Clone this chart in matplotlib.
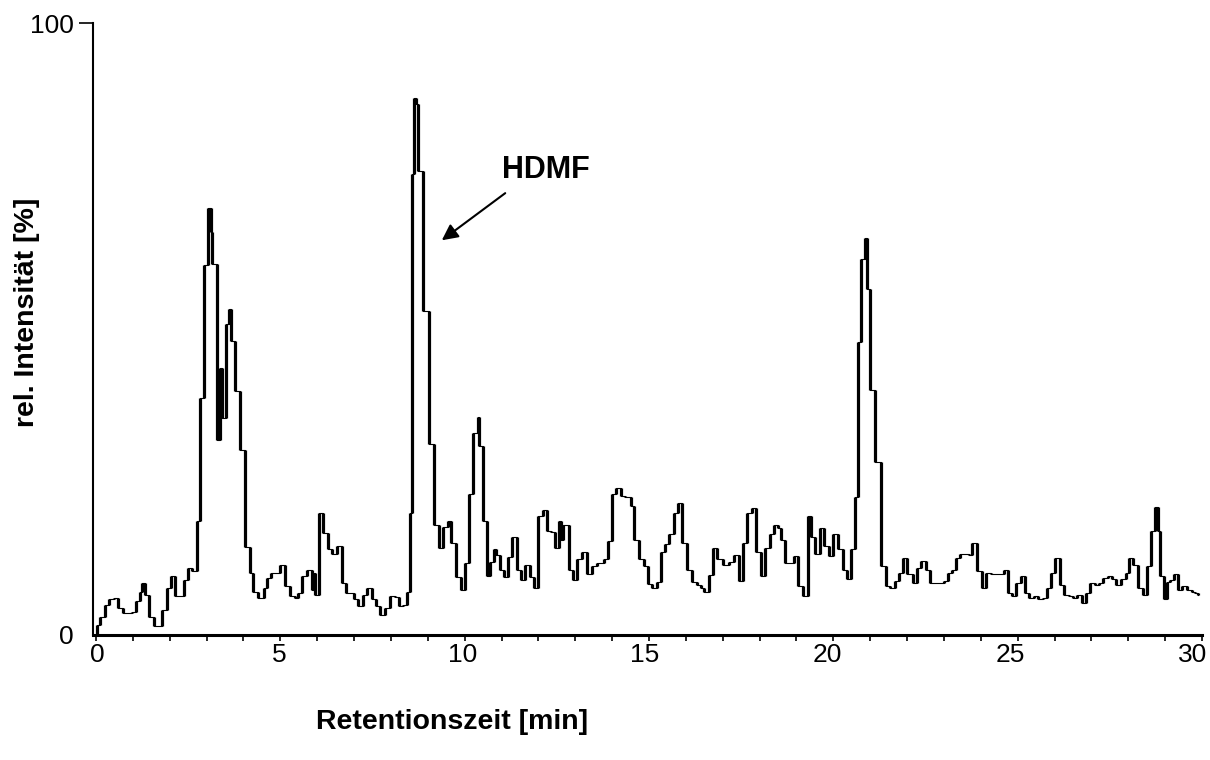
import matplotlib
matplotlib.use('Agg')
import matplotlib.pyplot as plt
import matplotlib.transforms as mtransforms
import numpy as np

# Chromatogramm: Retentionszeit [min] und rel. Intensität [%]
zeit = [0.0, 0.02, 0.11, 0.24, 0.36, 0.5, 0.6, 0.72, 0.88, 0.97,
        1.08, 1.18, 1.24, 1.33, 1.44, 1.56, 1.67, 1.8, 1.92, 2.03,
        2.14, 2.28, 2.4, 2.5, 2.6, 2.73, 2.82, 2.94, 3.05, 3.12,
        3.16, 3.27, 3.37, 3.43, 3.53, 3.62, 3.66, 3.77, 3.9, 4.04,
        4.18, 4.27, 4.4, 4.55, 4.63, 4.76, 4.99, 5.13, 5.26, 5.4,
        5.49, 5.58, 5.71, 5.85, 5.9, 5.94, 6.06, 6.15, 6.3, 6.41,
        6.53, 6.66, 6.78, 6.89, 7.0, 7.12, 7.25, 7.36, 7.48, 7.59,
        7.7, 7.84, 7.97, 8.11, 8.23, 8.34, 8.44, 8.52, 8.57, 8.63,
        8.68, 8.73, 8.86, 9.02, 9.16, 9.3, 9.41, 9.55, 9.64, 9.77,
        9.91, 10.0, 10.11, 10.23, 10.35, 10.4, 10.49, 10.61, 10.7, 10.79,
        10.84, 10.95, 11.07, 11.18, 11.29, 11.41, 11.53, 11.64, 11.77, 11.89,
        12.0, 12.12, 12.23, 12.35, 12.45, 12.55, 12.62, 12.68, 12.82, 12.95,
        13.06, 13.18, 13.32, 13.45, 13.59, 13.77, 13.89, 14.0, 14.11, 14.23,
        14.36, 14.5, 14.59, 14.73, 14.86, 14.98, 15.09, 15.23, 15.32, 15.44,
        15.55, 15.67, 15.78, 15.9, 16.04, 16.17, 16.3, 16.4, 16.5, 16.62,
        16.73, 16.85, 17.0, 17.18, 17.3, 17.44, 17.55, 17.67, 17.8, 17.91,
        18.05, 18.15, 18.27, 18.39, 18.5, 18.57, 18.68, 18.82, 18.94, 19.05,
        19.18, 19.3, 19.39, 19.5, 19.64, 19.75, 19.88, 20.0, 20.12, 20.25,
        20.36, 20.48, 20.59, 20.66, 20.75, 20.86, 20.92, 21.0, 21.14, 21.3,
        21.44, 21.55, 21.66, 21.77, 21.9, 22.0, 22.15, 22.27, 22.38, 22.5,
        22.62, 22.73, 22.86, 23.0, 23.12, 23.23, 23.32, 23.44, 23.57, 23.68,
        23.77, 23.91, 24.03, 24.14, 24.27, 24.41, 24.52, 24.64, 24.73, 24.85,
        24.95, 25.09, 25.2, 25.32, 25.44, 25.55, 25.68, 25.79, 25.91, 26.02,
        26.14, 26.27, 26.39, 26.5, 26.62, 26.75, 26.86, 26.97, 27.09, 27.21,
        27.32, 27.45, 27.57, 27.68, 27.8, 27.94, 28.03, 28.13, 28.27, 28.39,
        28.5, 28.61, 28.73, 28.8, 28.85, 28.97, 29.05, 29.12, 29.23, 29.34,
        29.45, 29.59, 29.73, 29.82, 29.9]
intensitaet = [0.0, 1.6, 3.0, 4.9, 5.9, 6.0, 4.4, 3.6, 3.6, 3.8,
               5.5, 7.0, 8.5, 6.6, 3.0, 1.4, 1.5, 4.1, 7.7, 9.6,
               6.3, 6.3, 9.0, 11.0, 10.4, 18.7, 38.7, 60.4, 69.7, 65.9,
               60.7, 31.9, 43.7, 35.4, 50.8, 53.3, 48.0, 39.8, 30.2, 14.3,
               10.2, 7.1, 6.0, 7.7, 9.3, 10.2, 11.5, 8.0, 6.3, 6.0,
               6.9, 9.6, 10.7, 7.4, 10.2, 6.6, 20.0, 16.7, 14.0, 13.3,
               14.5, 8.5, 6.9, 6.9, 5.8, 4.7, 6.6, 7.7, 5.8, 4.7,
               3.3, 4.4, 6.3, 6.2, 4.7, 4.9, 7.1, 19.9, 75.3, 87.8,
               86.7, 75.9, 53.0, 31.2, 18.0, 14.2, 17.7, 18.6, 15.0, 9.4,
               7.3, 11.8, 23.1, 33.0, 35.7, 30.9, 18.6, 9.6, 12.0, 14.0,
               13.0, 10.6, 9.4, 12.8, 16.0, 10.6, 9.0, 11.5, 9.4, 7.6,
               19.5, 20.4, 17.0, 16.8, 14.2, 18.6, 15.5, 18.0, 10.6, 9.0,
               12.4, 13.6, 10.0, 11.2, 11.8, 12.4, 15.3, 23.1, 24.0, 22.7,
               22.6, 21.0, 15.6, 12.4, 11.2, 8.4, 7.6, 8.6, 13.6, 14.8,
               16.5, 19.9, 21.6, 15.0, 10.6, 8.6, 8.2, 7.6, 7.0, 9.8,
               14.2, 12.4, 11.5, 12.0, 13.0, 8.9, 15.0, 19.9, 20.7, 13.6,
               9.6, 14.2, 16.5, 18.0, 17.5, 15.6, 11.8, 11.8, 12.9, 8.0,
               6.3, 19.5, 16.0, 13.2, 17.5, 14.6, 12.9, 16.5, 14.0, 10.7,
               9.1, 14.0, 22.5, 47.8, 61.5, 64.8, 56.6, 40.0, 28.3, 11.3,
               8.0, 7.7, 8.8, 10.2, 12.6, 9.9, 8.5, 11.0, 12.1, 10.7,
               8.5, 8.5, 8.5, 8.8, 10.2, 10.7, 12.5, 13.2, 13.3, 13.0,
               15.1, 10.4, 7.7, 10.2, 9.9, 9.9, 9.9, 10.7, 6.9, 6.3,
               8.5, 9.6, 6.9, 6.0, 6.3, 5.8, 6.0, 7.7, 10.2, 12.6,
               8.2, 6.6, 6.3, 6.0, 6.6, 5.2, 6.9, 8.5, 8.2, 8.5,
               9.3, 9.6, 9.1, 8.2, 9.1, 10.2, 12.6, 11.5, 7.7, 6.6,
               11.3, 17.0, 20.9, 17.0, 9.6, 5.8, 8.7, 9.0, 9.9, 7.4,
               8.0, 7.4, 7.0, 6.9, 6.5]

x_ticks = [0, 5, 10, 15, 20, 25, 30]
y_ticks = [0, 100]

plt.rcParams['font.family'] = ['Liberation Sans', 'DejaVu Sans']

fig = plt.figure(figsize=(12.1, 7.6), dpi=100)
ax = fig.add_axes([0.0769, 0.1645, 0.9165, 0.8052])

t = np.array(zeit)
v = np.array(intensitaet)
# Treppenlinie, senkrechte Striche dicker wie im Original
ax.step(t, v, where='post', color='black', lw=0.8)
ax.vlines(t[1:], v[:-1], v[1:], color='black', lw=2.3)

ax.set_xlim(-0.08, 30)
ax.set_ylim(0, 100)

for side in ['top', 'right']:
    ax.spines[side].set_visible(False)
ax.spines['bottom'].set_linewidth(2.2)
ax.spines['left'].set_linewidth(1.5)

ax.set_xticks(x_ticks)
ax.set_xticks(range(31), minor=True)
ax.tick_params(axis='x', which='both', direction='out', length=4, width=1.2,
               labelsize=19, pad=2)
ax.set_yticks(y_ticks)
ax.tick_params(axis='y', direction='out', length=10, width=1.2, labelsize=19, pad=4)
ax.yaxis.get_major_ticks()[0].tick1line.set_visible(False)

# die Beschriftungen rücken nach rechts hin etwas nach links (wie im Original)
for wert, lab in zip(x_ticks, ax.get_xticklabels()):
    dx = (1 - 0.34 * wert) / 100
    lab.set_transform(lab.get_transform() + mtransforms.ScaledTranslation(dx, 0, fig.dpi_scale_trans))

ax.set_xlabel('Retentionszeit [min]', fontsize=20.5, fontweight='bold', va='center')
ax.xaxis.set_label_coords(0.324, -0.142)
ax.set_ylabel('rel. Intensität [%]', fontsize=20.5, fontweight='bold', va='center')
ax.yaxis.set_label_coords(-0.0595, 0.528)

ax.text(12.2, 76, 'HDMF', fontsize=22, fontweight='bold', ha='center', va='center')
ax.annotate('', xy=(9.38, 64.5), xytext=(11.1, 72.2),
            arrowprops=dict(arrowstyle='-|>', color='black', lw=1.5,
                            mutation_scale=24, shrinkA=0, shrinkB=0))

fig.savefig('out.png', dpi=100)
